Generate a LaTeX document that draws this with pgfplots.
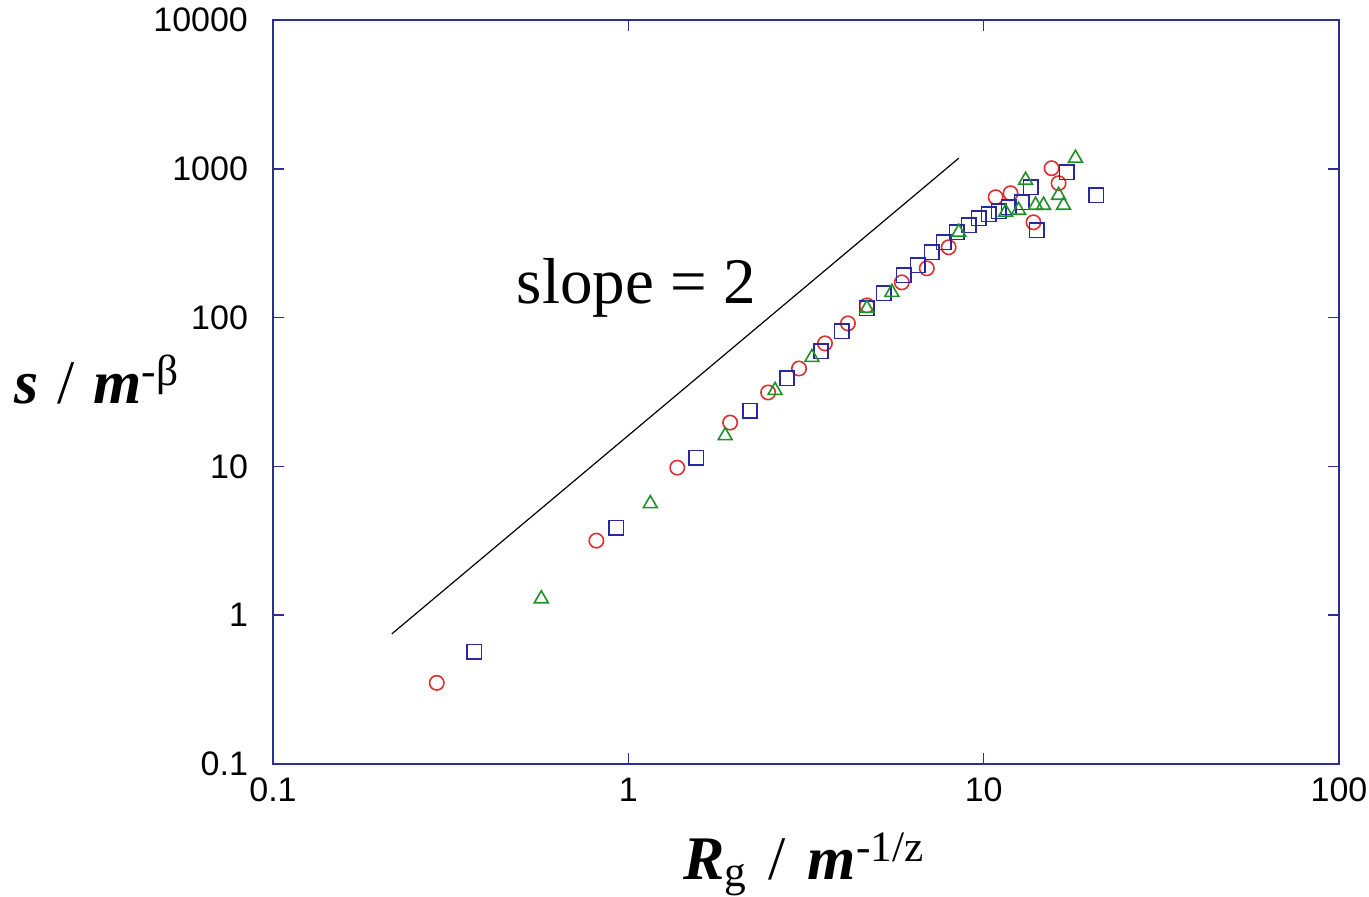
\documentclass[border=0pt]{standalone}
\usepackage{fontspec}
\setmainfont{Liberation Serif}
\newfontfamily\ticksans{Liberation Sans}
\usepackage{pgfplots}
\pgfplotsset{compat=1.18}
\definecolor{axisblue}{RGB}{45,45,150}
\definecolor{cred}{RGB}{225,45,45}
\definecolor{cblue}{RGB}{40,40,165}
\definecolor{cgreen}{RGB}{30,145,40}
\begin{document}
\begin{tikzpicture}
\begin{axis}[
  at={(0,0)}, anchor=south west,
  scale only axis, width=533pt, height=372pt,
  xmode=log, ymode=log,
  xmin=0.1, xmax=100, ymin=0.1, ymax=10000,
  xtick={0.1,1,10,100}, xticklabels={0.1,1,10,100},
  ytick={0.1,1,10,100,1000,10000}, yticklabels={0.1,1,10,100,1000,10000},
  xminorticks=false, yminorticks=false,
  tick align=inside, major tick length=5.5pt,
  axis line style={axisblue, line width=1pt},
  every tick/.style={axisblue, line width=0.8pt},
  /pgf/number format/assume math mode=true,
  tick label style={font=\ticksans\fontsize{17}{20}\selectfont},
  xticklabel style={yshift=-3.5pt},
  yticklabel style={xshift=-9pt},
  xlabel={\textbf{\textit{R}}\textsubscript{g}\hspace{0.35em}/\hspace{0.35em}\textbf{\textit{m}}\textsuperscript{-1/z}},
  xlabel style={at={(axis description cs:0.498,-0.155)}, anchor=base, font=\fontsize{31}{36}\selectfont},
  ylabel={\textbf{\textit{s}}\hspace{0.3em}/\hspace{0.3em}\textbf{\textit{m}}\textsuperscript{-β}},
  ylabel style={rotate=-90, at={(axis description cs:-0.165,0.485)}, anchor=base, font=\fontsize{31}{36}\selectfont},
  clip=false,
]
\addplot[black, line width=0.6pt] coordinates {(0.216,0.749) (8.51,1178)};
\addplot[only marks, mark=o, mark size=3.6pt, cred, mark options={line width=0.8pt}] coordinates {
(0.289,0.351) (0.813,3.17) (1.373,9.81) (1.934,19.7) (2.474,31.4) (3.022,45.5)
(3.576,67.1) (4.150,91.4) (4.692,120.8) (5.885,172.5) (6.917,214.3) (7.974,296.8)
(10.81,644) (11.90,685) (13.81,437) (15.53,1009) (16.25,800)
};
\addplot[only marks, mark=square, mark size=3.6pt, cblue, mark options={line width=0.8pt}] coordinates {
(0.369,0.567) (0.925,3.88) (1.552,11.46) (2.201,23.7) (2.797,39.0) (3.485,59.2)
(3.991,80.8) (4.692,115.3) (5.238,145.5) (5.961,192.3) (6.526,224.6) (7.143,274.6)
(7.718,320.8) (8.40,374.6) (9.08,417.4) (9.68,465.1) (10.33,494.9) (11.02,518.4)
(11.75,551.5) (12.79,596) (13.55,752) (14.09,386) (17.11,948) (20.77,664)
};
\addplot[only marks, mark=triangle, mark size=4pt, cgreen, mark options={line width=0.8pt}] coordinates {
(0.569,1.29) (1.153,5.62) (1.873,16.1) (2.588,32.4) (3.287,54.0) (4.692,115.3)
(5.515,147.8) (8.51,374.6) (11.53,510.5) (12.54,526.6) (13.12,838) (14.00,569)
(14.74,569) (16.25,664) (16.78,569) (18.13,1178)
};
\node[anchor=base west, inner sep=0pt, font=\fontsize{32.5}{38}\selectfont] at (axis cs:0.4845,124.6) {slope = 2};
\end{axis}
\pgfresetboundingbox
\path (-136.5pt,-66.5pt) rectangle (548pt,382pt);
\end{tikzpicture}
\end{document}
